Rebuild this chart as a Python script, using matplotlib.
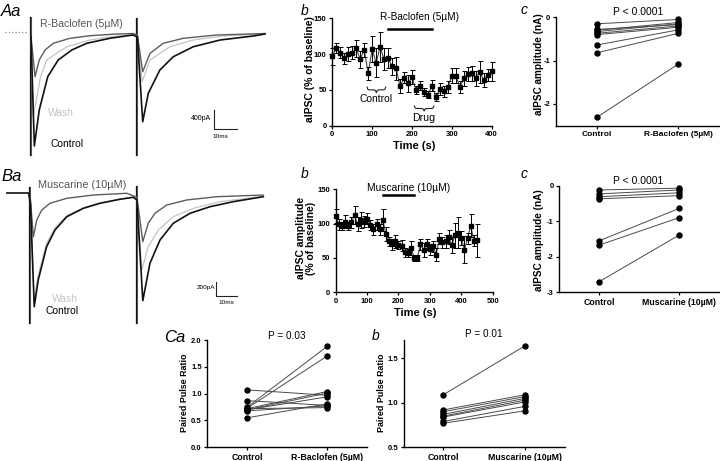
import numpy as np
import matplotlib
matplotlib.use('Agg')
import matplotlib.pyplot as plt
from matplotlib.lines import Line2D
from matplotlib.collections import LineCollection

plt.rcParams['font.family'] = ['Liberation Sans', 'DejaVu Sans']
plt.rcParams['axes.unicode_minus'] = False

# ---------------- data ----------------
# Aa: example traces (ms, pA)
aa_ctrl_t = [13.9, 15.4, 17.6, 21.4, 26.1, 32.2, 38.9, 49.3, 59.6, 61.6, 64.0, 66.5, 71.7, 77.7, 86.7, 98.7, 113.6, 118.8]
aa_ctrl_i = [-100, -2394, -1638, -939, -588, -378, -237, -132, -63, -100, -1884, -1287, -798, -519, -309, -168, -84, -42]
aa_wash_t = [13.9, 14.9, 18.2, 20.9, 29.9, 40.4, 52.3, 59.6, 61.6, 63.7, 67.3, 76.2, 86.7, 100.1, 118.8]
aa_wash_i = [-100, -1779, -939, -588, -309, -168, -84, -52, -100, -1044, -588, -309, -168, -84, -42]
aa_drug_t = [13.9, 15.7, 17.6, 20.2, 23.9, 31.4, 40.4, 52.3, 59.6, 61.6, 64.0, 67.3, 73.2, 82.2, 97.2, 118.8]
aa_drug_i = [-100, -939, -588, -378, -237, -132, -78, -42, -32, -60, -834, -447, -237, -132, -63, -32]
aa_base_t = [2.2, 12.6]
aa_base_i = [0, 0]
aa_art_t = [13.4, 61.1]
aa_art_top = [320, 290]
aa_art_bot = [-2580, -2580]

# Ba: example traces (ms, pA)
ba_ctrl_t = [3.3, 13.6, 14.5, 16.3, 18.2, 22.2, 26.2, 31.8, 39.7, 47.6, 57.1, 63.5, 65.2, 68.0, 71.4, 76.2, 82.5, 90.5, 100.0, 111.1, 125.4]
ba_ctrl_i = [0, 0, -150, -1626, -1244, -768, -529, -339, -219, -147, -90, -61, -100, -1540, -1005, -672, -433, -290, -196, -124, -53]
ba_wash_t = [14.5, 16.2, 18.2, 22.2, 26.2, 31.8, 39.7, 47.6, 57.1, 63.5, 65.2, 67.5, 70.6, 75.4, 82.5, 92.1, 104.8, 123.8]
ba_wash_i = [-150, -1530, -1175, -717, -495, -322, -210, -142, -87, -61, -100, -1101, -768, -529, -339, -219, -124, -53]
ba_drug_t = [14.5, 15.9, 17.5, 19.9, 23.8, 31.8, 44.4, 60.3, 65.2, 68.0, 70.6, 73.8, 79.4, 88.9, 103.2, 125.4]
ba_drug_i = [-100, -625, -386, -243, -147, -76, -29, -4, -60, -696, -433, -290, -172, -100, -53, -29]
ba_art_t = [14.0, 64.7]
ba_art_top = [90, 100]
ba_art_bot = [-1860, -1860]

# Ab: time course R-Baclofen
ab_time = list(range(0, 401, 10))
ab_mean = [97, 109, 102, 94, 100, 102, 108, 93, 106, 73, 107, 88, 110, 93, 94, 83, 80, 55, 67, 59, 68,
           50, 56, 47, 43, 56, 40, 51, 48, 54, 70, 70, 54, 66, 72, 73, 66, 75, 64, 71, 76]
ab_sem = [12, 7, 8, 8, 10, 9, 12, 12, 10, 9, 18, 20, 21, 15, 14, 12, 16, 10, 8, 12, 10,
          6, 6, 6, 5, 8, 5, 8, 8, 8, 10, 10, 8, 10, 10, 10, 10, 16, 10, 8, 13]
ab_drug_window = (140, 250)
ab_ctrl_brace = (87, 134)
ab_drug_brace = (206, 255)

# Bb: time course Muscarine
bb_time = list(range(0, 451, 10))
bb_mean = [111, 99, 96, 103, 96, 102, 112, 99, 105, 103, 107, 98, 92, 99, 92, 105, 85, 74, 70, 74, 69,
           68, 58, 57, 65, 50, 50, 70, 62, 70, 63, 67, 55, 78, 73, 74, 80, 69, 83, 87, 79, 62, 79, 97, 75, 76]
bb_sem = [10, 8, 6, 10, 6, 8, 13, 10, 12, 8, 8, 8, 8, 8, 8, 16, 10, 6, 8, 10, 6,
          8, 6, 6, 10, 5, 5, 8, 10, 8, 8, 8, 10, 8, 8, 10, 10, 12, 18, 22, 10, 20, 8, 17, 8, 24]
bb_drug_window = (150, 250)

# Ac / Bc: paired amplitudes (nA)
ac_labels = ['Control', 'R-Baclofen (5\u00b5M)']
ac_ctrl = [-0.15, -0.28, -0.30, -0.33, -0.37, -0.40, -0.64, -0.82, -2.31]
ac_drug = [-0.05, -0.17, -0.12, -0.15, -0.20, -0.23, -0.29, -0.37, -1.08]
bc_labels = ['Control', 'Muscarine (10\u00b5M)']
bc_ctrl = [-0.12, -0.23, -0.31, -0.37, -1.55, -1.67, -2.70]
bc_drug = [-0.07, -0.12, -0.20, -0.28, -0.64, -0.90, -1.39]

# Ca / Cb: paired pulse ratio
ca_ctrl = [1.07, 0.87, 0.75, 0.73, 0.72, 0.70, 0.70, 0.68, 0.72, 0.55]
ca_drug = [0.97, 0.78, 1.88, 1.70, 1.04, 1.01, 0.94, 0.77, 0.74, 0.81]
cb_ctrl = [1.09, 0.92, 0.90, 0.87, 0.85, 0.84, 0.79, 0.77]
cb_drug = [1.64, 1.09, 1.07, 1.05, 1.03, 1.01, 0.96, 0.91]

# ---------------- figure ----------------
W, H = 720, 461
fig = plt.figure(figsize=(W / 100, H / 100), dpi=100)

CTRL = '#111111'
DRUG = '#5c5c5c'
WASH = '#c4c4c4'


def px_axes(l, t, r, b):
    return fig.add_axes([l / W, 1 - b / H, (r - l) / W, (b - t) / H])


def ftext(x, y, s, **kw):
    fig.text(x / W, 1 - y / H, s, **kw)


def style(ax, size=5.5):
    for s in ['top', 'right']:
        ax.spines[s].set_visible(False)
    for s in ['left', 'bottom']:
        ax.spines[s].set_linewidth(1.0)
    ax.tick_params(direction='out', length=2.5, width=0.9, labelsize=size, pad=1.5)
    for lab in ax.get_xticklabels() + ax.get_yticklabels():
        lab.set_fontweight('bold')


def noclip(ax):
    for ch in ax.get_children():
        if isinstance(ch, (Line2D, LineCollection)):
            ch.set_clip_on(False)


def brace(ax, x0, x1, y, h):
    u = np.linspace(0, 1, 101)
    beta = 22.0
    half = 1 / (1 + np.exp(-beta * u)) + 1 / (1 + np.exp(-beta * (u - 1)))
    prof = np.concatenate([half, half[-2::-1]])
    xs = np.linspace(x0, x1, prof.size)
    ax.plot(xs, y - h * (prof - 0.5), color='#222', lw=0.8, clip_on=False)


# ---- Aa traces ----
ax = px_axes(0, 10, 280, 165)
ax.set_xlim(0, 280 / 2.23)
ax.set_ylim((32 - 165) * 21, (32 - 10) * 21)
ax.axis('off')
ax.plot(aa_base_t, aa_base_i, color='#888', lw=0.9, ls=':')
for t, tp, bt in zip(aa_art_t, aa_art_top, aa_art_bot):
    ax.plot([t + 0.5, t + 0.5], [tp, bt], color=DRUG, lw=0.8)
    ax.plot([t, t], [tp, bt], color=CTRL, lw=0.9)
ax.plot(aa_wash_t, aa_wash_i, color=WASH, lw=0.9)
ax.plot(aa_drug_t, aa_drug_i, color=DRUG, lw=1.0)
ax.plot(aa_ctrl_t, aa_ctrl_i, color=CTRL, lw=1.2)
# scale bar 400 pA / 10 ms
sx, sy = 96.1, -1638
ax.plot([sx, sx, sx + 10], [sy, sy - 400, sy - 400], color='#222', lw=0.8)
ftext(211, 118.5, '400pA', fontsize=5, ha='right', va='center')
ftext(220, 136.7, '10ms', fontsize=4.6, ha='center', va='center')
ftext(81.5, 24, 'R-Baclofen (5\u00b5M)', fontsize=7.6, color='#555', ha='center', va='center')
ftext(61, 113, 'Wash', fontsize=7.4, color=WASH, ha='center', va='center')
ftext(66.7, 144, 'Control', fontsize=7.4, color='black', ha='center', va='center')

# ---- Ba traces ----
ax = px_axes(0, 180, 280, 335)
ax.set_xlim(0, 280 / 2.1)
ax.set_ylim((193 - 335) * 14.3, (193 - 180) * 14.3)
ax.axis('off')
for t, tp, bt in zip(ba_art_t, ba_art_top, ba_art_bot):
    ax.plot([t + 0.5, t + 0.5], [tp, bt], color=DRUG, lw=0.8)
    ax.plot([t, t], [tp, bt], color=CTRL, lw=0.9)
ax.plot(ba_wash_t, ba_wash_i, color=WASH, lw=0.9)
ax.plot(ba_drug_t, ba_drug_i, color=DRUG, lw=1.0)
ax.plot(ba_ctrl_t, ba_ctrl_i, color=CTRL, lw=1.2)
sx, sy = 102.9, -1268
ax.plot([sx, sx, sx + 10], [sy, sy - 200, sy - 200], color='#222', lw=0.8)
ftext(215, 287.5, '200pA', fontsize=4.6, ha='right', va='center')
ftext(226, 303, '10ms', fontsize=4.6, ha='center', va='center')
ftext(81.7, 184.5, 'Muscarine (10\u00b5M)', fontsize=7.8, color='#555', ha='center', va='center')
ftext(64.5, 299, 'Wash', fontsize=7.4, color=WASH, ha='center', va='center')
ftext(62, 311, 'Control', fontsize=7.4, color='black', ha='center', va='center')

# ---- Ab time course ----
ax = px_axes(332.3, 18.3, 491.7, 125.7)
ax.plot(ab_time, ab_mean, color='#444', lw=0.8)
ax.errorbar(ab_time, ab_mean, yerr=ab_sem, fmt='s', color='black', ms=3.4,
            ecolor='black', elinewidth=0.7, capsize=1.8, capthick=0.7)
ax.set_xlim(0, 400)
ax.set_ylim(0, 150)
ax.set_xticks([0, 100, 200, 300, 400])
ax.set_yticks([0, 50, 100, 150])
style(ax)
noclip(ax)
ax.plot(ab_drug_window, [135, 135], color='black', lw=1.8, clip_on=False)
ax.text(218, 152, 'R-Baclofen (5\u00b5M)', fontsize=7.2, ha='center', va='center', clip_on=False)
brace(ax, ab_ctrl_brace[0], ab_ctrl_brace[1], 54, 8)
brace(ax, ab_drug_brace[0], ab_drug_brace[1], 27.5, 7)
ax.text(110, 37.5, 'Control', fontsize=7.4, ha='center', va='center')
ax.text(228, 10.8, 'Drug', fontsize=7.6, ha='center', va='center')
ftext(310, 69, 'aIPSC (% of baseline)', fontsize=7.5, fontweight='bold', rotation=90, ha='center', va='center')
ftext(414, 146, 'Time (s)', fontsize=8, fontweight='bold', ha='center', va='center')

# ---- Bb time course ----
ax = px_axes(335.7, 189.3, 492.7, 292.3)
ax.plot(bb_time, bb_mean, color='#444', lw=0.8)
ax.errorbar(bb_time, bb_mean, yerr=bb_sem, fmt='s', color='black', ms=3.4,
            ecolor='black', elinewidth=0.7, capsize=1.8, capthick=0.7)
ax.set_xlim(0, 500)
ax.set_ylim(0, 150)
ax.set_xticks([0, 100, 200, 300, 400, 500])
ax.set_yticks([0, 50, 100, 150])
style(ax)
noclip(ax)
ax.plot(bb_drug_window, [142, 142], color='black', lw=1.8, clip_on=False)
ax.text(233, 152.5, 'Muscarine (10\u00b5M)', fontsize=7.4, ha='center', va='center', clip_on=False)
ftext(306, 238, 'aIPSC amplitude\n(% of baseline)', fontsize=7.5, fontweight='bold', rotation=90,
      ha='center', va='center', linespacing=1.05, multialignment='center')
ftext(415, 313.3, 'Time (s)', fontsize=8, fontweight='bold', ha='center', va='center')


# ---- paired plots ----
def paired(ax, a, b):
    for u, v in zip(a, b):
        ax.plot([0, 1], [u, v], color='#4a4a4a', lw=0.7, zorder=2)
    ax.plot([0] * len(a), a, 'o', color='black', ms=3.6, zorder=3)
    ax.plot([1] * len(b), b, 'o', color='black', ms=3.6, zorder=3)


ax = px_axes(556, 17.3, 719, 125.6)
paired(ax, ac_ctrl, ac_drug)
ax.set_xlim(-0.5, 1.5)
ax.set_ylim(-2.5, 0)
ax.set_yticks([-2, -1, 0])
ax.set_yticklabels(['-2', '-1', '0'])
ax.set_xticks([0, 1])
ax.set_xticklabels(ac_labels)
style(ax)
for lab in ax.get_xticklabels():
    lab.set_fontsize(6)
noclip(ax)
ftext(538.5, 64, 'aIPSC amplitude (nA)', fontsize=7.2, fontweight='bold', rotation=90, ha='center', va='center')
ftext(638.5, 11.7, 'P < 0.0001', fontsize=7.5, ha='center', va='center')

ax = px_axes(559.3, 185.7, 719, 292.3)
paired(ax, bc_ctrl, bc_drug)
ax.set_xlim(-0.5, 1.5)
ax.set_ylim(-3, 0)
ax.set_yticks([-3, -2, -1, 0])
ax.set_yticklabels(['-3', '-2', '-1', '0'])
ax.set_xticks([0, 1])
ax.set_xticklabels(bc_labels)
style(ax)
for lab in ax.get_xticklabels():
    lab.set_fontsize(6.3)
noclip(ax)
ftext(539, 240, 'aIPSC amplitude (nA)', fontsize=7.2, fontweight='bold', rotation=90, ha='center', va='center')
ftext(638.5, 181, 'P < 0.0001', fontsize=7.5, ha='center', va='center')

ax = px_axes(207.3, 340, 367, 447.3)
paired(ax, ca_ctrl, ca_drug)
ax.set_xlim(-0.5, 1.5)
ax.set_ylim(0, 2.0)
ax.set_yticks([0, 0.5, 1.0, 1.5, 2.0])
ax.set_yticklabels(['0.0', '0.5', '1.0', '1.5', '2.0'])
ax.set_xticks([0, 1])
ax.set_xticklabels(ac_labels)
style(ax)
for lab in ax.get_xticklabels():
    lab.set_fontsize(6.3)
noclip(ax)
ftext(184.5, 393, 'Paired Pulse Ratio', fontsize=6.4, fontweight='bold', rotation=90, ha='center', va='center')
ftext(286.7, 336, 'P = 0.03', fontsize=7.2, ha='center', va='center')

ax = px_axes(404, 340.5, 565, 447.3)
paired(ax, cb_ctrl, cb_drug)
ax.set_xlim(-0.48, 1.49)
ax.set_ylim(0.5, 1.7)
ax.set_yticks([0.5, 1.0, 1.5])
ax.set_yticklabels(['0.5', '1.0', '1.5'])
ax.set_xticks([0, 1])
ax.set_xticklabels(bc_labels)
style(ax)
for lab in ax.get_xticklabels():
    lab.set_fontsize(6.3)
noclip(ax)
ftext(382, 393, 'Paired Pulse Ratio', fontsize=6.4, fontweight='bold', rotation=90, ha='center', va='center')
ftext(483.5, 334, 'P = 0.01', fontsize=7.2, ha='center', va='center')

# ---- panel letters ----
ftext(1, 16, 'Aa', fontsize=12, style='italic', ha='left', va='baseline')
ftext(301, 15, 'b', fontsize=10, style='italic', ha='left', va='baseline')
ftext(521, 14, 'c', fontsize=10, style='italic', ha='left', va='baseline')
ftext(1, 181, 'Ba', fontsize=12, style='italic', ha='left', va='baseline')
ftext(301, 178, 'b', fontsize=10, style='italic', ha='left', va='baseline')
ftext(521, 178, 'c', fontsize=10, style='italic', ha='left', va='baseline')
ftext(164, 342, 'Ca', fontsize=12, style='italic', ha='left', va='baseline')
ftext(372, 340, 'b', fontsize=10, style='italic', ha='left', va='baseline')

fig.savefig('out.png', dpi=100)
